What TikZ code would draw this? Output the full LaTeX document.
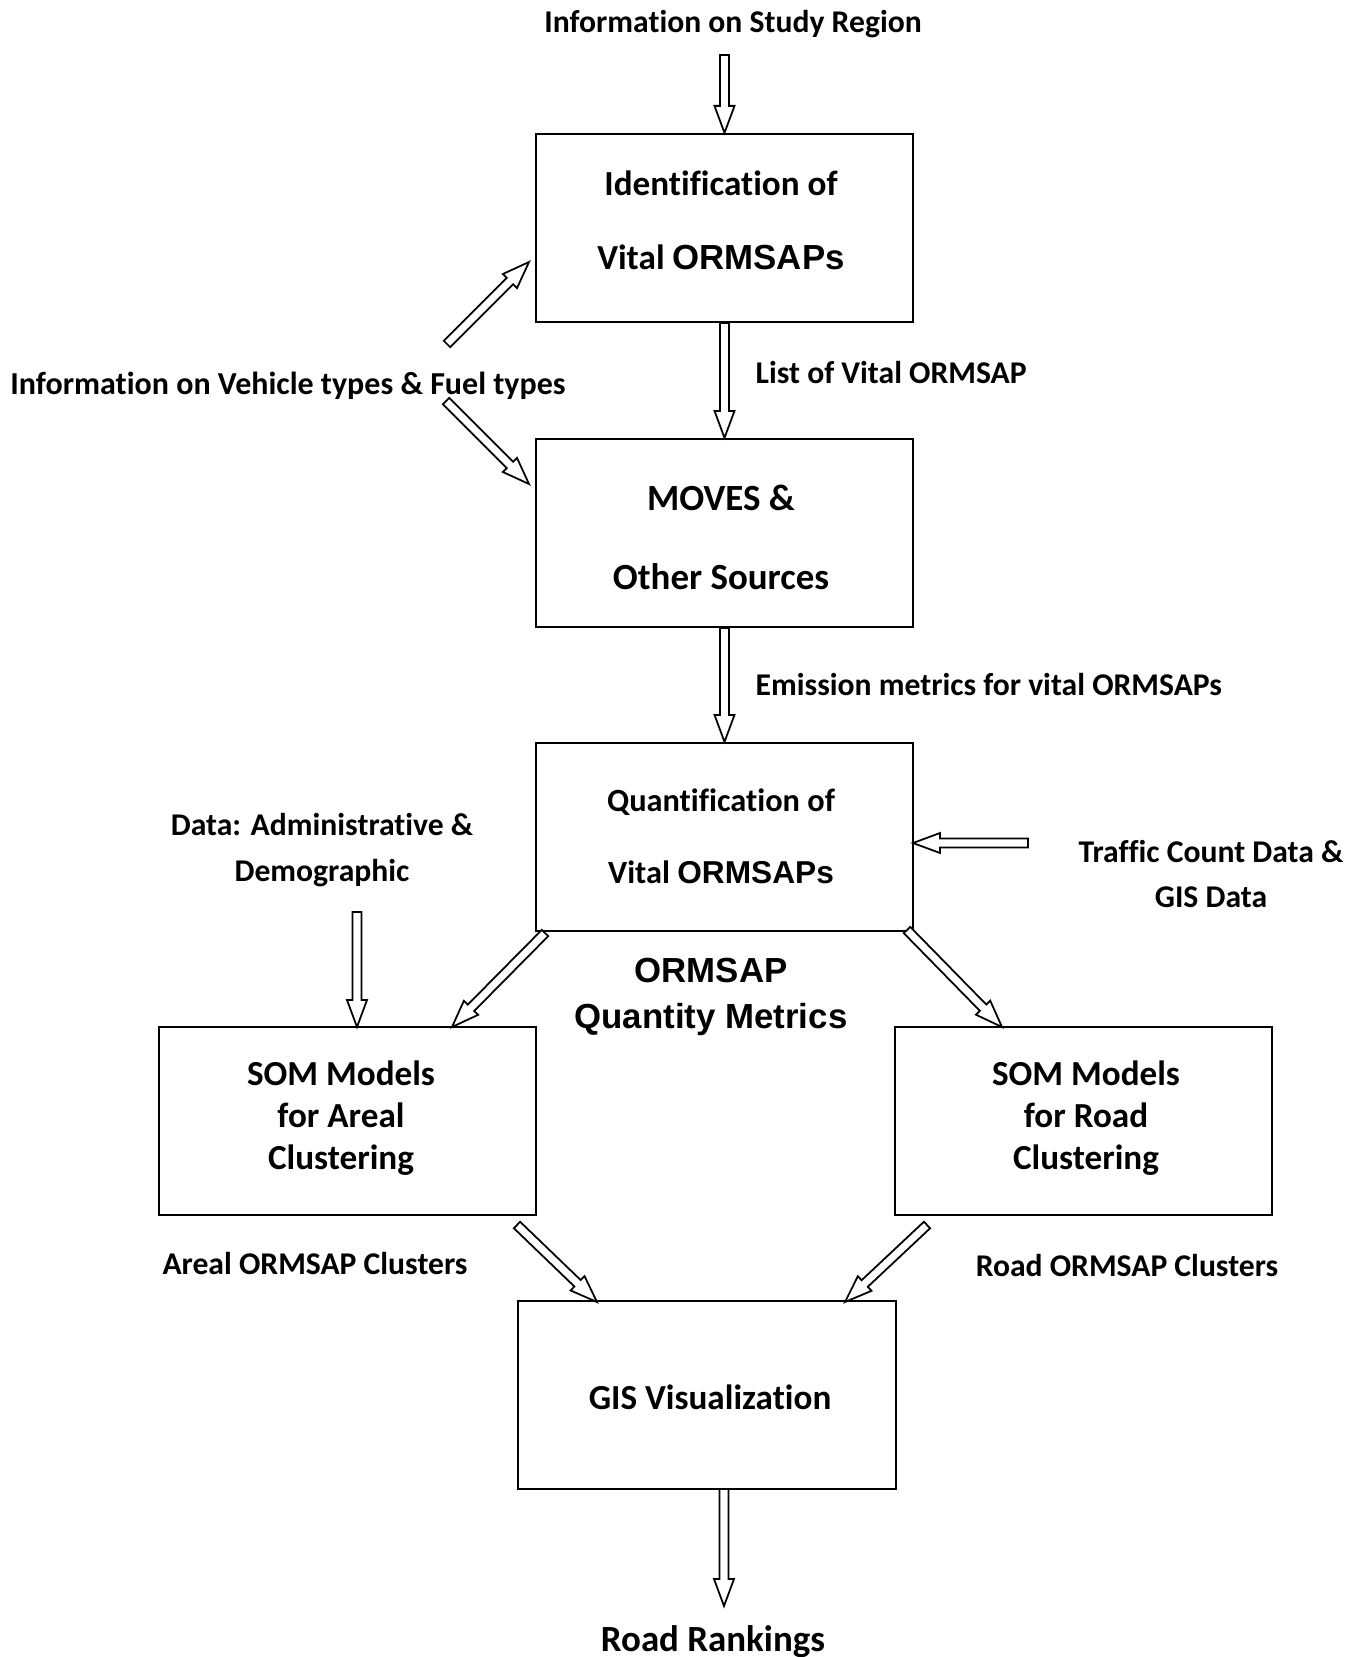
\documentclass[tikz,border=0pt]{standalone}
\usepackage{fontspec}
\setmainfont{Carlito}[Ligatures=CommonOff]
\newfontfamily\arialfont{Liberation Sans}
\usetikzlibrary{calc}

% hollow block arrow from a tail point to a tip point
\newcommand{\hollowarrow}[2]{%
  \coordinate (hb) at ($(#2)!0.27cm!(#1)$);
  \draw[arrowline] ($(#1)!0.045cm!90:(#2)$) -- ($(hb)!0.045cm!-90:(#1)$)
    -- ($(hb)!0.1cm!-90:(#1)$) -- (#2) -- ($(hb)!0.1cm!90:(#1)$)
    -- ($(hb)!0.045cm!90:(#1)$) -- ($(#1)!0.045cm!-90:(#2)$) -- cycle;}

\tikzset{
  box/.style={draw, line width=0.6pt, minimum width=3.77cm, minimum height=1.88cm},
  boxtxt/.style={align=center, inner sep=0pt, font=\fontsize{10}{12}\selectfont\bfseries},
  lbl/.style={align=center, inner sep=0pt, font=\fontsize{9}{13}\selectfont\bfseries},
  arrowline/.style={line width=0.5pt, fill=white}
}

\begin{document}
\begin{tikzpicture}[x=0.01cm, y=-0.01cm]
    \useasboundingbox (0,0) rectangle (1359,1657);

    % Inputs at the top
    \node[lbl] (studyinfo) at (733,24) {Information on Study Region};
    \node[lbl, font=\fontsize{9.1}{13}\selectfont\bfseries] (vehinfo) at (288,386) {Information on Vehicle types \& Fuel types};

    % Identification of vital ORMSAPs
    \node[box] (ident) at (724.5,228) {};
    \node[boxtxt] (identtxt) at (721,220) {Identification of\\[9pt]Vital {\arialfont\fontsize{9.9}{12}\selectfont ORMSAPs}};
    \coordinate (studytail) at (724.5,55);
    \hollowarrow{studytail}{ident.north}
    \coordinate (vehuptail) at (447,344);
    \coordinate (vehuptip) at (529,262);
    \hollowarrow{vehuptail}{vehuptip}

    % MOVES and other sources
    \node[box] (moves) at (724.5,533) {};
    \node[boxtxt, font=\fontsize{10.5}{12.5}\selectfont\bfseries] (movestxt) at (721,537) {MOVES \&\\[10pt]Other Sources};
    \hollowarrow{ident.south}{moves.north}
    \node[lbl, anchor=west] (listlbl) at (755,373) {List of Vital ORMSAP};
    \coordinate (vehdowntail) at (446,401);
    \coordinate (vehdowntip) at (529,484);
    \hollowarrow{vehdowntail}{vehdowntip}

    % Quantification of vital ORMSAPs
    \node[box] (quant) at (724.5,837) {};
    \node[boxtxt, font=\fontsize{9.2}{12}\selectfont\bfseries] (quanttxt) at (721,836) {Quantification of\\[8.4pt]Vital {\arialfont\fontsize{9}{12}\selectfont ORMSAPs}};
    \hollowarrow{moves.south}{quant.north}
    \node[lbl, anchor=west] (emislbl) at (755,685) {Emission metrics for vital ORMSAPs};
    \node[lbl] (traffic) at (1211,874) {Traffic Count Data \&\\GIS Data};
    \coordinate (traffictail) at (1028,843);
    \coordinate (traffictip) at (913,843);
    \hollowarrow{traffictail}{traffictip}
    \node[lbl, font=\arialfont\fontsize{9.9}{13}\selectfont\bfseries] (metrics) at (711,997) {ORMSAP\\Quantity Metrics};

    % SOM models
    \node[box] (areal) at (347.5,1121) {};
    \node[boxtxt] (arealtxt) at (341,1118) {SOM Models\\for Areal\\Clustering};
    \node[box] (road) at (1083.5,1121) {};
    \node[boxtxt] (roadtxt) at (1086,1118) {SOM Models\\for Road\\Clustering};
    \node[lbl] (admin) at (322,850) {Data: Administrative \&\\Demographic};
    \coordinate (admintail) at (357,912);
    \coordinate (admintip) at (357,1027);
    \hollowarrow{admintail}{admintip}
    \coordinate (qareatail) at (545,933);
    \coordinate (qareatip) at (452,1027);
    \hollowarrow{qareatail}{qareatip}
    \coordinate (qroadtail) at (907,930);
    \coordinate (qroadtip) at (1002,1027);
    \hollowarrow{qroadtail}{qroadtip}

    % GIS visualization
    \node[box] (gis) at (707,1395) {};
    \node[boxtxt] (gistxt) at (710,1397) {GIS Visualization};
    \node[lbl] (areallbl) at (315,1263) {Areal ORMSAP Clusters};
    \node[lbl] (roadlbl) at (1127,1265) {Road ORMSAP Clusters};
    \coordinate (arealtail) at (517,1225);
    \coordinate (arealtip) at (597,1302);
    \hollowarrow{arealtail}{arealtip}
    \coordinate (roadtail) at (927,1225);
    \coordinate (roadtip) at (845,1302);
    \hollowarrow{roadtail}{roadtip}

    % Output
    \node[lbl, font=\fontsize{10.5}{12}\selectfont\bfseries] (rank) at (713,1642) {Road Rankings};
    \coordinate (gistail) at (724,1489);
    \coordinate (gistip) at (724,1606);
    \hollowarrow{gistail}{gistip}
\end{tikzpicture}
\end{document}
